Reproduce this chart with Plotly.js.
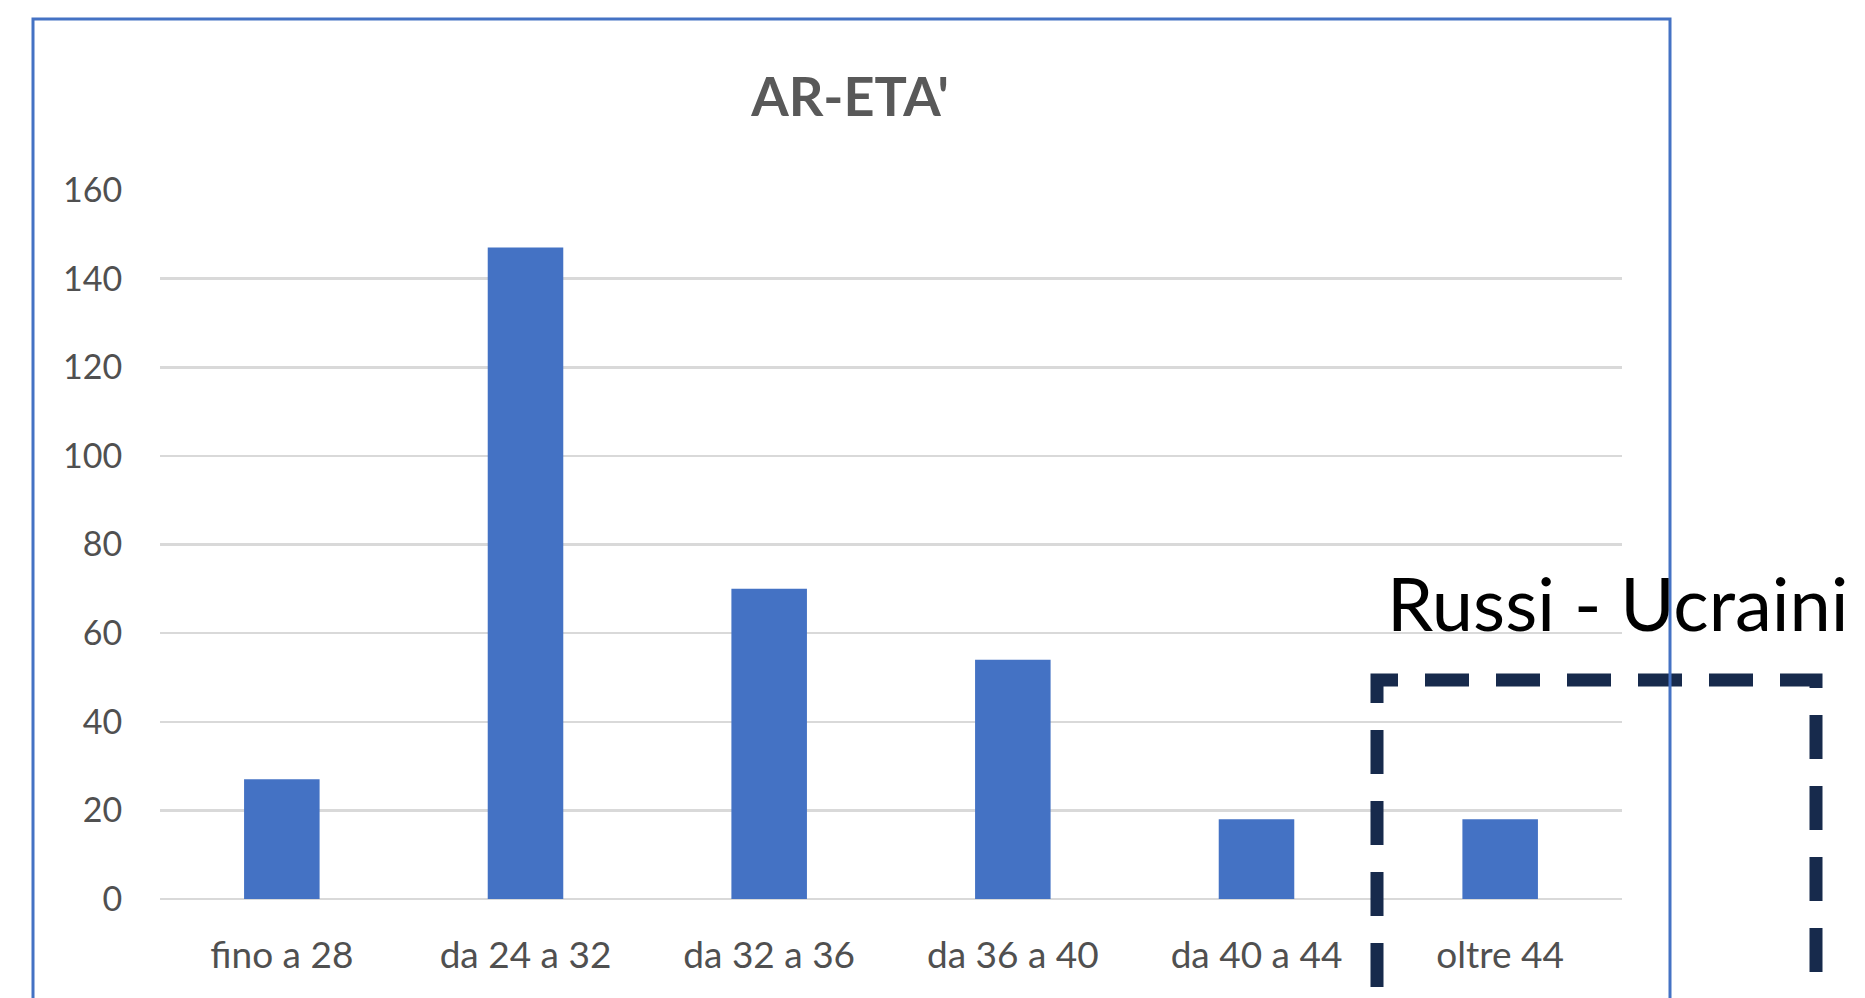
<!DOCTYPE html>
<html>
<head>
<meta charset="utf-8">
<script src="https://cdn.plot.ly/plotly-3.0.1.min.js"></script>
<style>
  html, body { margin: 0; padding: 0; background: #ffffff; }
  #chart { width: 1865px; height: 998px; }
</style>
</head>
<body>
<div id="chart"></div>
<script>
// ---- data ----
const categories = ["fino a 28", "da 24 a 32", "da 32 a 36", "da 36 a 40", "da 40 a 44", "oltre 44"];
const counts = [27, 147, 70, 54, 18, 18];
const yTickValues = [0, 20, 40, 60, 80, 100, 120, 140, 160];
const chartTitle = "AR-ETA'";
const noteText = "Russi - Ucraini";

// ---- layout geometry (pixels) ----
const W = 1865, H = 998;
const plotL = 160, plotR = 1622, plotT = 190, plotB = 899;
const pw = plotR - plotL, ph = plotB - plotT;
const px = x => (x - plotL) / pw;
const py = y => (plotB - y) / ph;

const trace = {
  type: "bar",
  x: categories,
  y: counts,
  marker: { color: "#4472C4", line: { width: 0 } },
  hoverinfo: "x+y"
};

const layout = {
  width: W,
  height: H,
  margin: { l: plotL, r: W - plotR, t: plotT, b: H - plotB, pad: 0 },
  paper_bgcolor: "#ffffff",
  plot_bgcolor: "#ffffff",
  showlegend: false,
  bargap: 0.69,
  title: {
    text: "<b>" + chartTitle + "</b>",
    font: { family: "Lato, 'Liberation Sans', sans-serif", size: 54, color: "#595959" },
    x: px(850), xref: "paper", xanchor: "center",
    y: 1 - 97 / H, yref: "container", yanchor: "middle"
  },
  xaxis: {
    type: "category",
    tickfont: { family: "Lato, 'Liberation Sans', sans-serif", size: 37, color: "#505050" },
    ticks: "outside", ticklen: 24, tickcolor: "rgba(0,0,0,0)",
    showgrid: false, zeroline: false, showline: false
  },
  yaxis: {
    range: [0, 160],
    tickvals: yTickValues,
    ticktext: yTickValues.map(String),
    tickfont: { family: "Lato, 'Liberation Sans', sans-serif", size: 34, color: "#505050" },
    ticks: "outside", ticklen: 30, tickcolor: "rgba(0,0,0,0)",
    showgrid: true, gridcolor: "#D9D9D9", gridwidth: 2.5,
    zeroline: true, zerolinecolor: "#D9D9D9", zerolinewidth: 2.5,
    showline: false, fixedrange: true
  },
  shapes: [
    {
      type: "rect", xref: "paper", yref: "paper", layer: "above",
      x0: px(1377), x1: px(1816), y0: py(1030), y1: py(680),
      line: { color: "#172A4C", width: 13, dash: "44px,27px" },
      fillcolor: "rgba(0,0,0,0)"
    },
    {
      type: "rect", xref: "paper", yref: "paper", layer: "above",
      x0: px(33), x1: px(1670), y0: py(1030), y1: py(19),
      line: { color: "#4472C4", width: 3 },
      fillcolor: "rgba(0,0,0,0)"
    }
  ],
  annotations: [
    {
      text: noteText,
      xref: "paper", yref: "paper",
      x: px(1386), xanchor: "left",
      y: py(602), yanchor: "middle",
      showarrow: false,
      borderpad: 0,
      font: { family: "Lato, 'Liberation Sans', sans-serif", size: 74, color: "#000000" }
    }
  ]
};

Plotly.newPlot("chart", [trace], layout, { displayModeBar: false, staticPlot: true });
</script>
</body>
</html>
